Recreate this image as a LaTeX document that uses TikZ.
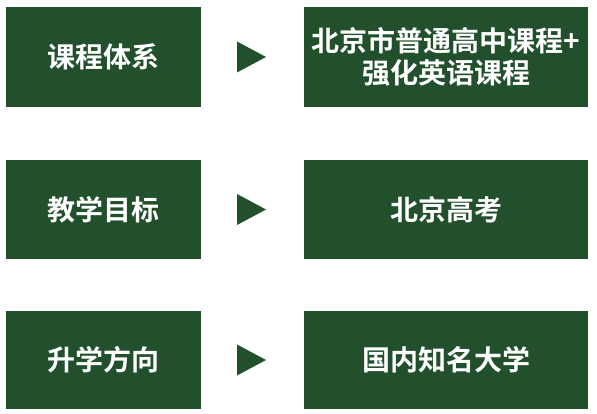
\documentclass[tikz,border=0pt]{standalone}
\usepackage{fontspec}
\usetikzlibrary{calc}
\newfontfamily\cjk{Noto Sans CJK SC}[BoldFont={Noto Sans CJK SC Bold}]
\definecolor{dgreen}{RGB}{34,80,44}
\begin{document}
\begin{tikzpicture}[x=1pt,y=-1pt,
  gbox/.style={fill=dgreen,draw=none,inner sep=0pt,text=white,align=center,
    font=\cjk\bfseries\fontsize{28}{32}\selectfont},
  tri/.style={fill=dgreen,draw=none}]
\useasboundingbox (0,0) rectangle (597,414);
% left boxes
\node[gbox,minimum width=195pt,minimum height=100pt] (l1) at (103.5,57) {课程体系};
\node[gbox,minimum width=195pt,minimum height=99pt] (l2) at (103.5,209.5) {教学目标};
\node[gbox,minimum width=195pt,minimum height=98pt] (l3) at (103.5,360) {升学方向};
% right boxes
\node[gbox,minimum width=284pt,minimum height=100pt] (r1) at (446,57) {北京市普通高中课程+\\强化英语课程};
\node[gbox,minimum width=284pt,minimum height=99pt] (r2) at (446,209.5) {北京高考};
\node[gbox,minimum width=284pt,minimum height=98pt] (r3) at (446,360) {国内知名大学};
% arrows
\foreach \y/\n in {57/a1,209.5/a2,360/a3}{
  \coordinate (\n) at (251,\y);
  \fill[tri] ($(\n)+(-14,-15.5)$) -- ($(\n)+(15,0)$) -- ($(\n)+(-14,15.5)$) -- cycle;
}
\end{tikzpicture}
\end{document}
